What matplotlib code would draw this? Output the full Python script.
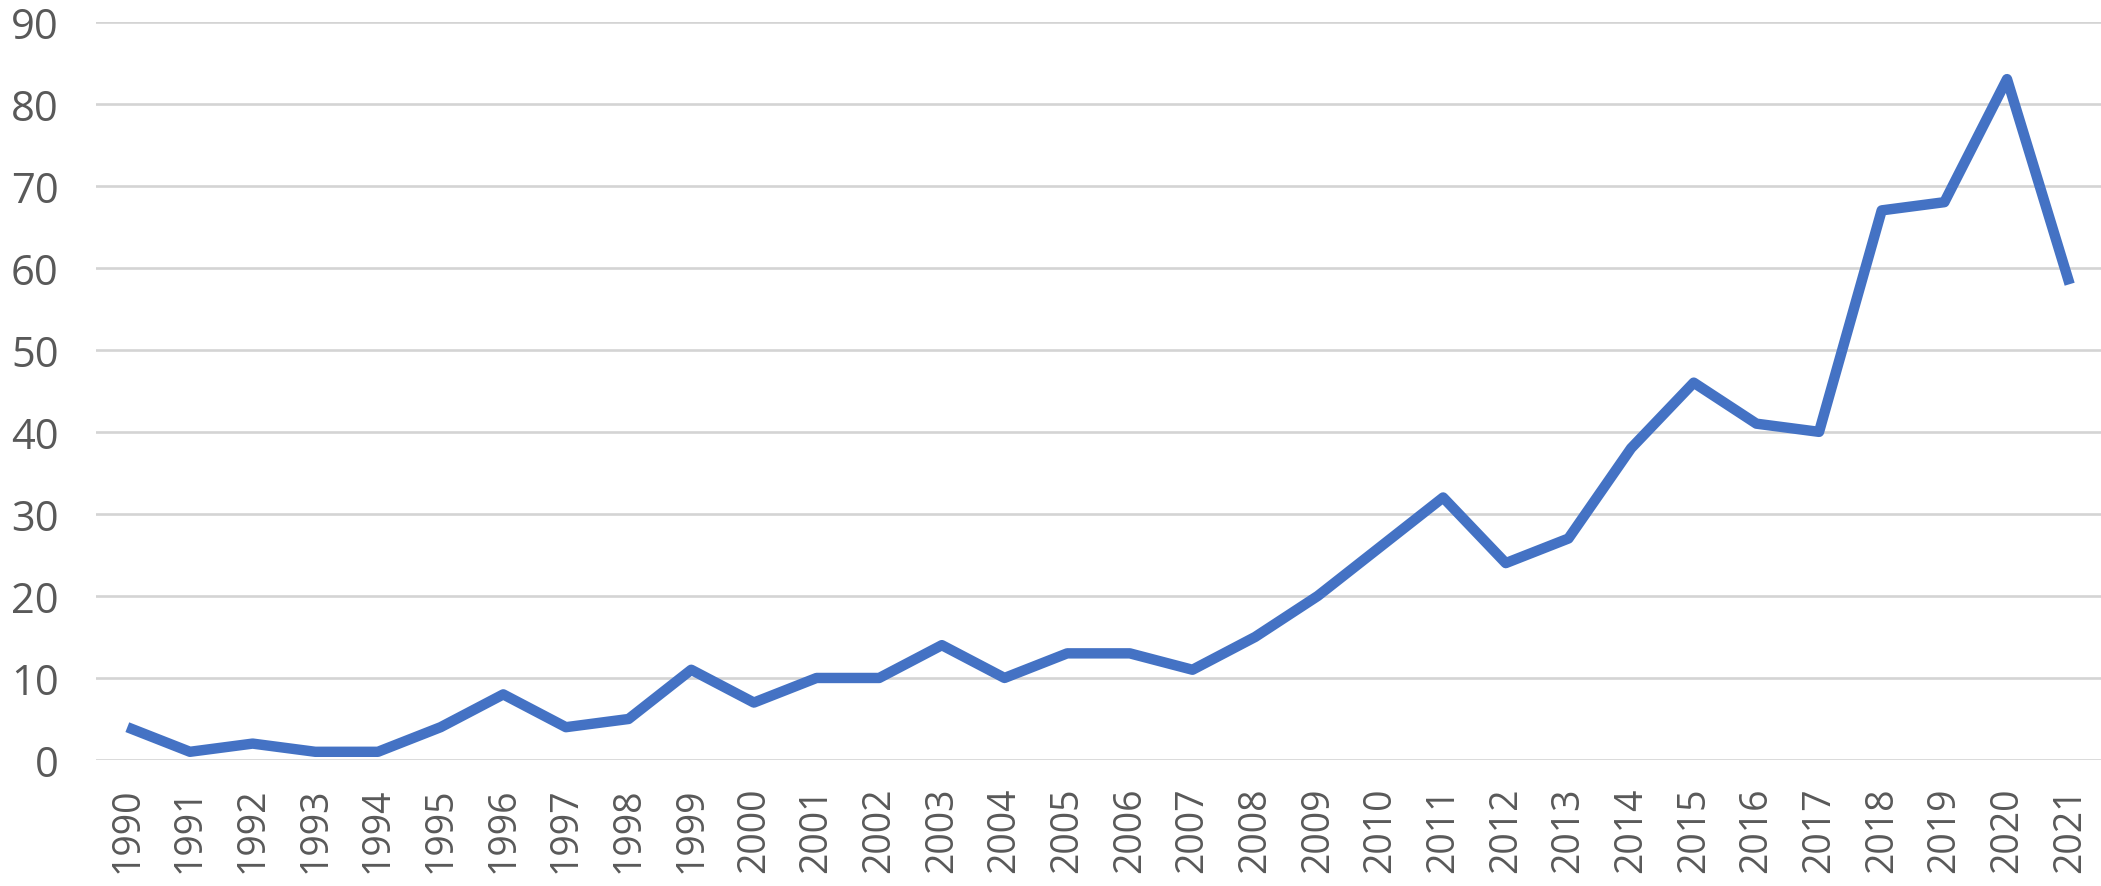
import matplotlib.pyplot as plt

years = [str(y) for y in range(1990, 2022)]
counts = [4, 1, 2, 1, 1, 4, 8, 4, 5, 11, 7, 10, 10, 14, 10, 13, 13, 11, 15, 20,
          26, 32, 24, 27, 38, 46, 41, 40, 67, 68, 83, 58]
y_ticks = list(range(0, 91, 10))

plt.rcParams['font.family'] = ['Open Sans', 'DejaVu Sans']

fig = plt.figure(figsize=(21.01, 8.87), dpi=100)
ax = fig.add_axes([96 / 2101, 1 - 761 / 887, 1 - 96 / 2101, (761 - 22.7) / 887])

x = list(range(len(years)))
ax.plot(x, counts, color='#4472C4', linewidth=7.5, solid_joinstyle='round',
        solid_capstyle='butt', zorder=3)

ax.set_xlim(-0.5, len(years) - 0.5)
ax.set_ylim(0, 90)
ax.set_yticks(y_ticks)
ax.set_xticks(x)
ax.set_xticklabels(years, rotation=90)

ax.grid(axis='y', color='#D4D4D4', linewidth=1.9)
ax.set_axisbelow(True)
for s in ax.spines.values():
    s.set_visible(False)
ax.tick_params(axis='both', length=0, colors='#595959')
ax.tick_params(axis='y', pad=27, labelsize=30)
ax.tick_params(axis='x', pad=19, labelsize=27)

fig.savefig('out.png', dpi=100)
